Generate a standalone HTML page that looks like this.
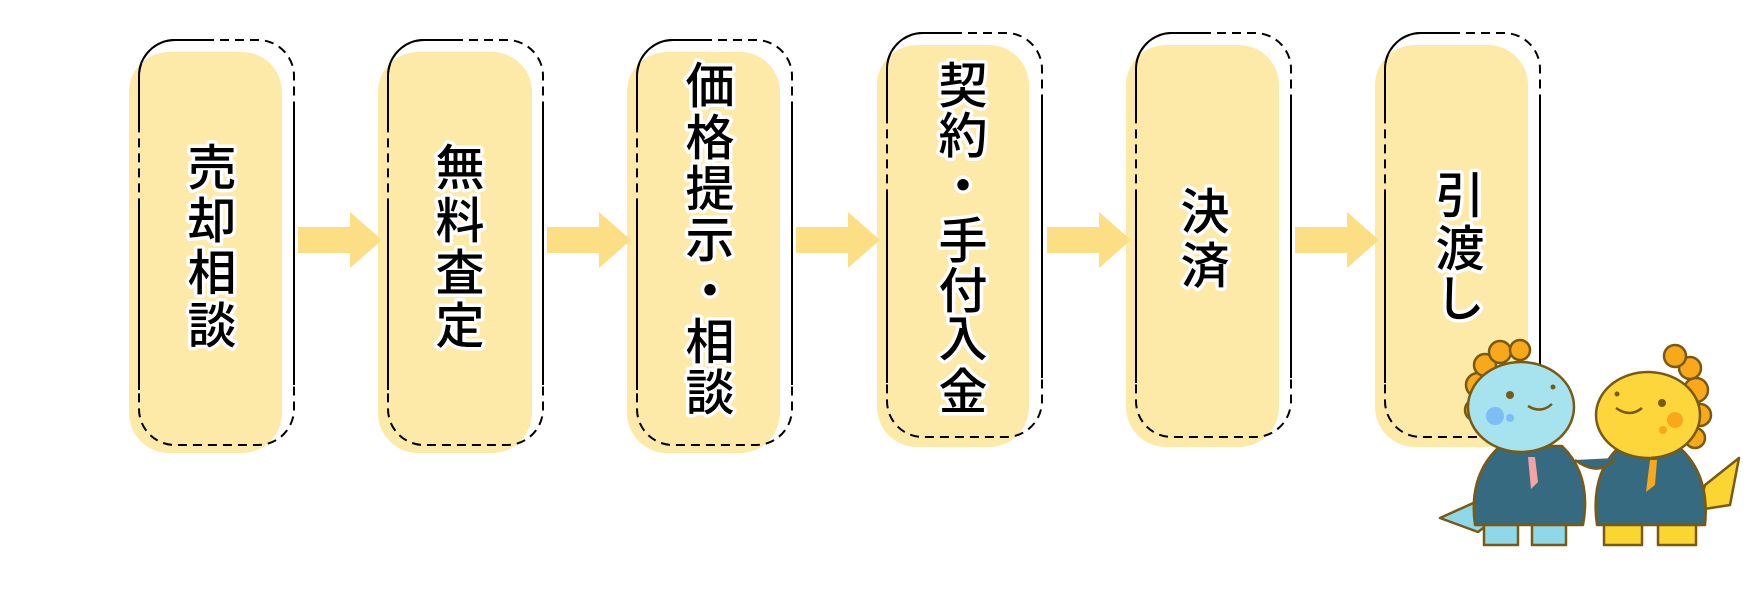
<!DOCTYPE html>
<html><head><meta charset="utf-8"><style>
html,body{margin:0;padding:0;background:#fff;width:1748px;height:590px;overflow:hidden}
svg{display:block}
text{font-family:"Liberation Sans","Noto Sans CJK JP",sans-serif;font-weight:500;font-size:49px;fill:#000;stroke:#fff;stroke-width:7px;paint-order:stroke;stroke-linejoin:round;text-anchor:middle;dominant-baseline:central}
</style></head><body>
<svg width="1748" height="590" viewBox="0 0 1748 590">
<defs>
<g id="arr"><path d="M0,-13 H52 V-28 L84,0 L52,28 V13 H0 Z" fill="#fcdf85"/></g>
</defs>
<g fill="#fdeaa9">
<rect x="129" y="52" width="153" height="401" rx="40"/>
<rect x="378" y="52" width="154" height="401" rx="40"/>
<rect x="627" y="52" width="153" height="401" rx="40"/>
<rect x="877" y="45" width="152" height="402" rx="40"/>
<rect x="1126" y="45" width="153" height="402" rx="40"/>
<rect x="1375" y="45" width="153" height="402" rx="40"/>
</g>
<g fill="none" stroke="#000" stroke-width="2" stroke-dasharray="9 6">
<rect x="139" y="40" width="155" height="405" rx="36"/>
<rect x="388" y="40" width="155" height="405" rx="36"/>
<rect x="637" y="40" width="155" height="405" rx="36"/>
<rect x="887" y="33" width="155" height="404" rx="36"/>
<rect x="1136" y="33" width="155" height="404" rx="36"/>
<rect x="1385" y="33" width="155" height="404" rx="36"/>
</g>
<g fill="none" stroke="#000" stroke-width="2">
<path d="M139,130 V76 A36,36 0 0 1 175,40 H205 M139,205 V390 M294,110 V385"/>
<path d="M388,130 V76 A36,36 0 0 1 424,40 H454 M388,205 V390 M543,110 V385"/>
<path d="M637,130 V76 A36,36 0 0 1 673,40 H703 M637,205 V390 M792,110 V385"/>
<path d="M887,123 V69 A36,36 0 0 1 923,33 H953 M887,198 V383 M1042,103 V378"/>
<path d="M1136,123 V69 A36,36 0 0 1 1172,33 H1202 M1136,198 V383 M1291,103 V378"/>
<path d="M1385,123 V69 A36,36 0 0 1 1421,33 H1451 M1385,198 V383 M1540,103 V378"/>
</g>
<use href="#arr" x="298" y="240"/>
<use href="#arr" x="547" y="240"/>
<use href="#arr" x="796" y="240"/>
<use href="#arr" x="1047" y="240"/>
<use href="#arr" x="1295" y="240"/>
<text x="212" y="169">売</text><text x="212" y="222">却</text><text x="212" y="274">相</text><text x="212" y="327">談</text>
<text x="460" y="169">無</text><text x="460" y="222">料</text><text x="460" y="274">査</text><text x="460" y="327">定</text>
<text x="710" y="87">価</text><text x="710" y="139">格</text><text x="710" y="190">提</text><text x="710" y="241">示</text><text x="710" y="292">・</text><text x="710" y="343">相</text><text x="710" y="394">談</text>
<text x="963" y="87">契</text><text x="963" y="137">約</text><text x="963" y="187">・</text><text x="963" y="242">手</text><text x="963" y="292">付</text><text x="963" y="340">入</text><text x="963" y="393">金</text>
<text x="1205" y="213">決</text><text x="1205" y="267">済</text>
<text x="1460" y="197">引</text><text x="1460" y="250">渡</text><text x="1460" y="300">し</text>
<!-- characters -->
<g stroke="#7a5a12" stroke-width="2.5" stroke-linejoin="round">
<path d="M1480,500 L1440,518 L1478,532 L1500,515 Z" fill="#8fd8ea"/>
<g fill="#f7a81b"><circle cx="1478" cy="385" r="12"/><circle cx="1476" cy="410" r="11"/><circle cx="1485" cy="365" r="11"/><circle cx="1500" cy="352" r="11"/><circle cx="1520" cy="350" r="10"/></g>
<path d="M1475,525 Q1468,475 1500,446 L1562,446 Q1592,475 1583,525 Z" fill="#366a80"/>
<path d="M1484,525 h34 v20 h-34 Z M1532,525 h34 v20 h-34 Z" fill="#8fd8ea"/>
<ellipse cx="1521" cy="407" rx="53" ry="45" fill="#a6e3ef"/>
<path d="M1705,485 L1739,458 L1730,505 L1698,510 Z" fill="#fbd530"/>
<g fill="#f7a81b"><circle cx="1696" cy="390" r="12"/><circle cx="1700" cy="415" r="11"/><circle cx="1690" cy="368" r="11"/><circle cx="1675" cy="356" r="11"/><circle cx="1695" cy="438" r="10"/></g>
<path d="M1597,525 Q1590,475 1618,448 L1680,448 Q1710,475 1705,525 Z" fill="#366a80"/>
<path d="M1604,525 h38 v20 h-38 Z M1658,525 h38 v20 h-38 Z" fill="#fbd530"/>
<ellipse cx="1648" cy="415" rx="52" ry="43" fill="#fcd63a"/>
<path d="M1575,460 Q1600,478 1615,458" fill="#366a80"/>
</g>
<g fill="#7a5a12"><circle cx="1510" cy="395" r="4"/><circle cx="1553" cy="387" r="2.5"/><circle cx="1662" cy="403" r="4"/><circle cx="1617" cy="394" r="2.5"/></g>
<g fill="none" stroke="#7a5a12" stroke-width="2.5"><path d="M1528,406 Q1541,414 1552,404"/><path d="M1616,408 Q1630,418 1642,408"/></g>
<g fill="#7cbdf5"><circle cx="1495" cy="416" r="9"/><circle cx="1510" cy="418" r="4"/></g>
<g fill="#f7a81b"><circle cx="1675" cy="420" r="8"/><circle cx="1663" cy="430" r="4"/></g>
<path d="M1528,457 l7,0 l3,25 l-7,7 z" fill="#f5a3a3"/>
<path d="M1650,460 l7,0 l-2,25 l-9,7 z" fill="#f7a81b"/>
</svg>
</body></html>
